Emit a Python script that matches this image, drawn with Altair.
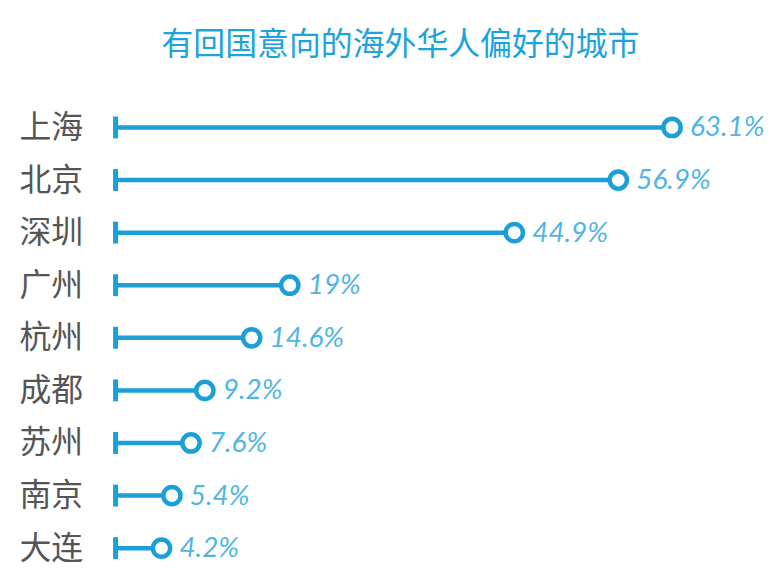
import altair as alt
import pandas as pd

cities = ["上海", "北京", "深圳", "广州", "杭州", "成都", "苏州", "南京", "大连"]
values = [63.1, 56.9, 44.9, 19, 14.6, 9.2, 7.6, 5.4, 4.2]
labels = ["63.1%", "56.9%", "44.9%", "19%", "14.6%", "9.2%", "7.6%", "5.4%", "4.2%"]

df = pd.DataFrame({"city": cities, "value": values, "label": labels})

BLUE = "#1a9fd8"
CJK = "Noto Sans CJK SC"

x = alt.X("value:Q", scale=alt.Scale(domain=[-1.1, 73.6], nice=False, zero=False), axis=None)
y = alt.Y("city:N", sort=cities,
          scale=alt.Scale(type="point", padding=0.3),
          axis=alt.Axis(title=None, domain=False, ticks=False, labelPadding=33,
                        labelFont=CJK, labelFontSize=32, labelColor="#555555",
                        labelFontWeight="normal"))

base = alt.Chart(df)

rule = base.mark_rule(color=BLUE, strokeWidth=4.5).encode(x=x, x2=alt.value(0), y=y)
start = base.mark_tick(color=BLUE, orient="vertical", size=22, thickness=5, opacity=1).encode(
    x=alt.value(0), y=y)
dots = base.mark_point(shape="circle", size=300, filled=False, fill="white", fillOpacity=1,
                       stroke=BLUE, strokeWidth=4.5, opacity=1).encode(x=x, y=y)
text = base.mark_text(align="left", baseline="middle", dx=18, dy=1, font="Lato",
                      fontStyle="italic", fontSize=28, color="#4fb5e3").encode(
    x=x, y=y, text="label:N")

chart = (rule + start + dots + text).properties(
    width=650,
    height=454,
    autosize=alt.AutoSizeParams(type="none"),
    padding={"left": 108, "top": 103, "right": 10, "bottom": 5},
    title=alt.TitleParams("有回国意向的海外华人偏好的城市", font=CJK, fontSize=32,
                          fontWeight="normal", color="#1ba3dd", anchor="middle",
                          dx=-39, offset=48),
).configure_view(stroke=None)

chart.save("out.html", embed_options={"renderer": "svg", "actions": False})
